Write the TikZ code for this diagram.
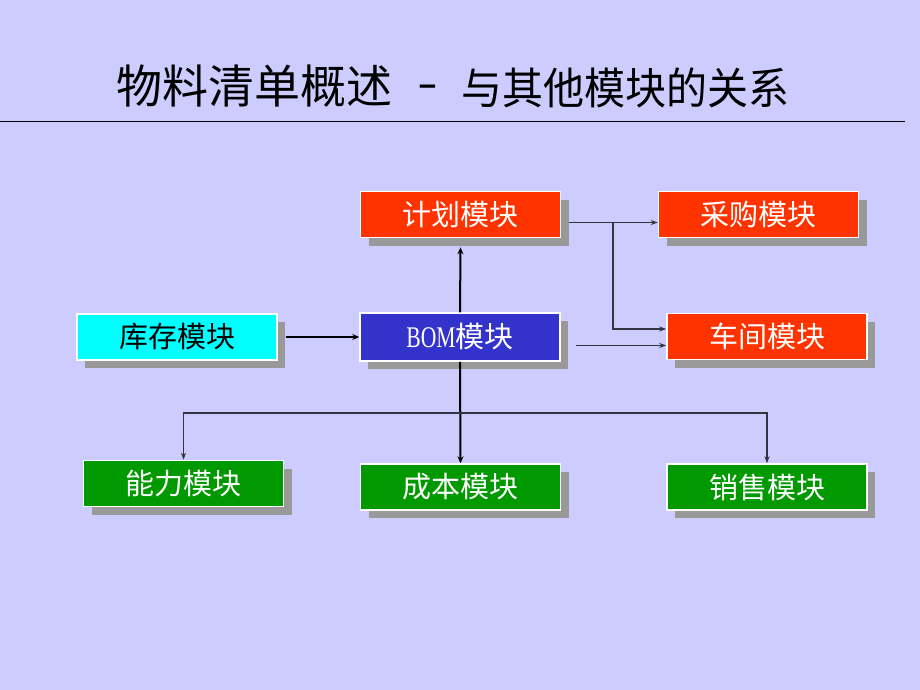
\documentclass[tikz,border=0pt]{standalone}
\usepackage{fontspec}
\usepackage{graphicx}
\setmainfont{Liberation Serif}
\newfontfamily\cjk{Noto Sans CJK SC}
\usetikzlibrary{arrows.meta,shadows}
\definecolor{bg}{HTML}{CCCCFF}
\definecolor{redbox}{HTML}{FF3300}
\definecolor{cyanbox}{HTML}{00FFFF}
\definecolor{bluebox}{HTML}{3333CC}
\definecolor{greenbox}{HTML}{009900}
\definecolor{shadowgray}{HTML}{999999}
\definecolor{linecol}{HTML}{333344}
\begin{document}
\begin{tikzpicture}[x=1pt,y=-1pt,
  box/.style={rectangle, draw=white, line width=1.5pt, minimum width=200pt,
    minimum height=46pt, inner sep=0pt, text=white,
    font=\cjk\fontsize{29}{29}\selectfont,
    drop shadow={shadow xshift=8pt, shadow yshift=-8pt, fill=shadowgray, opacity=1}},
  redb/.style={box, fill=redbox},
  greenb/.style={box, fill=greenbox},
  titletext/.style={font=\cjk\fontsize{46}{46}\selectfont, inner sep=0pt},
  thinarrow/.style={draw=linecol, line width=1.2pt, -{Stealth[length=7pt,width=5pt]}},
  thickarrow/.style={draw=black, line width=2pt, -{Stealth[length=7pt,width=6pt]}}]
\fill[bg] (0,0) rectangle (920,690);
\useasboundingbox (0,0) rectangle (920,690);
% title
\node[titletext, anchor=west] (titleA) at (116,86) {物料清单概述};
\node[titletext, anchor=base] (titleB) at (428,100) {\scalebox{1.3}[1]{-}};
\node[titletext, font=\cjk\fontsize{41}{41}\selectfont, anchor=east] (titleC) at (790,88) {\scalebox{1}[1.06]{与其他模块的关系}};
\coordinate (tl) at (0,122);
\coordinate (tr) at (905,122);
\draw[line width=1pt, black] (tl) -- (tr);
% boxes
\node[redb] (plan) at (460.5,214.5) {计划模块};
\node[redb] (buy) at (758.5,214.5) {采购模块};
\node[box, fill=cyanbox, text=black] (stock) at (177,337) {库存模块};
\node[box, fill=bluebox, minimum height=48pt] (bom) at (460,337) {\scalebox{0.72}[1]{\rmfamily\fontsize{30}{30}\selectfont BOM}模块};
\node[redb] (shop) at (767,336.5) {车间模块};
\node[greenb] (cap) at (183.5,483.5) {能力模块};
\node[greenb] (cost) at (460.5,487) {成本模块};
\node[greenb] (sale) at (767,487) {销售模块};
% connectors
\draw[thickarrow] ([xshift=8pt]stock.east) -- (bom.west);
\draw[thickarrow] (bom.north) -- ([yshift=-9pt]plan.south);
\draw[thickarrow] (bom.south) -- (cost.north);
\coordinate (bus) at (460,413);
\draw[thinarrow] (bus) -| (cap.north);
\draw[thinarrow] (bus) -| (sale.north);
\coordinate (p1) at ([shift={(8pt,-8pt)}]plan.east);
\draw[thinarrow] (p1) -- (buy.west |- p1);
\coordinate (br) at (613,222.5);
\coordinate (sh1) at ([yshift=7.5pt]shop.west);
\draw[thinarrow] (br) |- (sh1);
\coordinate (b1) at ([shift={(15pt,-8.5pt)}]bom.east);
\draw[thinarrow] (b1) -- (shop.west |- b1);
\end{tikzpicture}
\end{document}
